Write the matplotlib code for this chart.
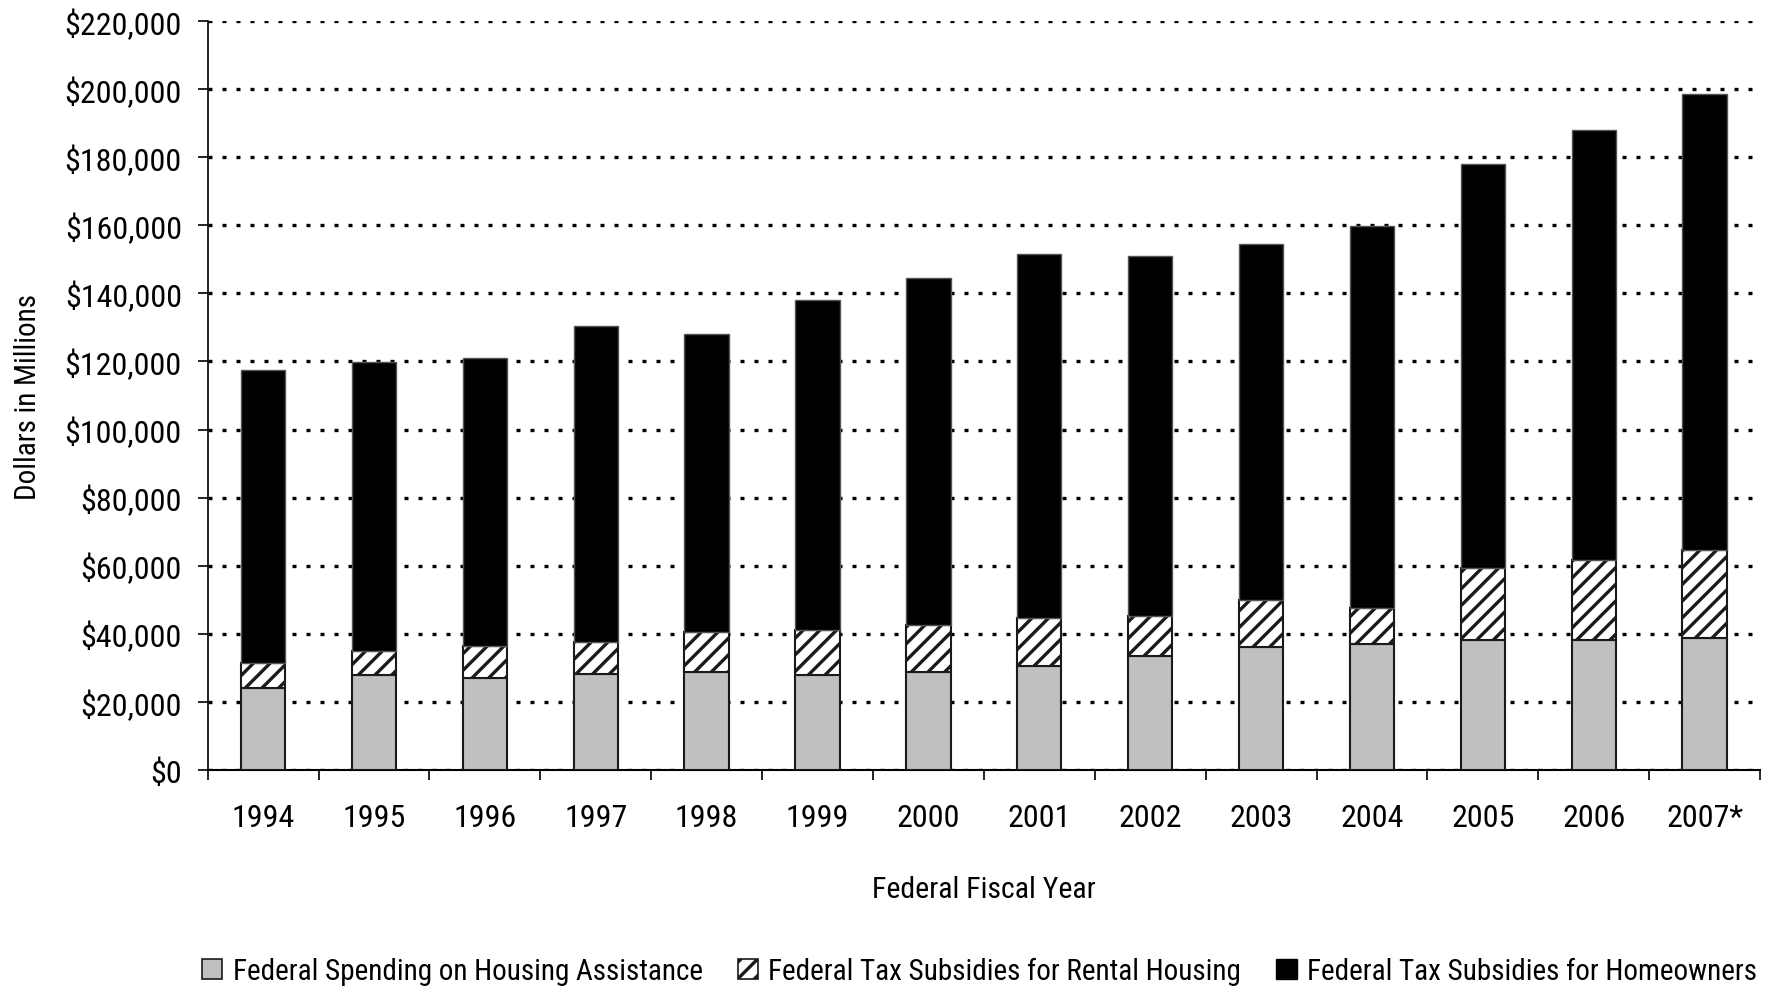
import numpy as np
import matplotlib
matplotlib.use("Agg")
import matplotlib.pyplot as plt
from matplotlib.patches import Patch
from matplotlib import font_manager

years = ['1994', '1995', '1996', '1997', '1998', '1999', '2000',
         '2001', '2002', '2003', '2004', '2005', '2006', '2007*']

# values, millions of dollars (cumulative tops)
spending = [24100, 27800, 27100, 28200, 28800, 27800, 28800,
            30700, 33600, 36000, 37100, 38200, 38300, 38900]
rental_top = [31500, 35100, 36300, 37600, 40400, 41000, 42700,
              44700, 45200, 50000, 47600, 59300, 61700, 64600]
total_top = [117400, 119800, 121100, 130400, 128000, 138000, 144500,
             151600, 151000, 154500, 159800, 178000, 188000, 198600]

rental = np.array(rental_top) - np.array(spending)
owners = np.array(total_top) - np.array(rental_top)

labels = ['Federal Spending on Housing Assistance',
          'Federal Tax Subsidies for Rental Housing',
          'Federal Tax Subsidies for Homeowners']

# look for a condensed sans face, the original uses one
cond = None
for key in ['LiberationSansNarrow-Regular', 'RobotoCondensed-Regular',
            'DejaVuSansCondensed.ttf', 'OpenSans_Condensed-Regular',
            'Roboto_Condensed-Regular']:
    for f in font_manager.fontManager.ttflist:
        if key.lower() in f.fname.lower().replace(' ', ''):
            cond = f
            break
    if cond:
        break

if cond is not None:
    plt.rcParams['font.family'] = cond.name
    plt.rcParams['font.stretch'] = cond.stretch
    fs = 23
else:
    plt.rcParams['font.family'] = 'Liberation Sans'
    fs = 20
plt.rcParams['hatch.linewidth'] = 2.4

fig = plt.figure(figsize=(17.84, 9.87), dpi=100)
ax = fig.add_axes([0.1164, 0.2188, 0.8702, 0.7589])

x = np.arange(len(years))
w = 0.4
ax.bar(x, spending, w, color='#c0c0c0', edgecolor='#1a1a1a', linewidth=1.5, zorder=3)
ax.bar(x, rental, w, bottom=spending, color='white', edgecolor='#1a1a1a',
       hatch='//', linewidth=1.5, zorder=3)
ax.bar(x, owners, w, bottom=rental_top, color='black', edgecolor='#555555',
       linewidth=1.0, zorder=3)

ax.set_xlim(-0.5, len(years) - 0.5)
ax.set_ylim(0, 220000)
ax.set_yticks(np.arange(0, 220001, 20000))
ax.set_yticklabels(['${:,}'.format(v) for v in range(0, 220001, 20000)], fontsize=fs)
ax.yaxis.grid(True, color='black', linestyle=(0, (1.2, 3.0)), linewidth=2.4, zorder=0)

ax.set_xticks(x)
ax.set_xticklabels(years, fontsize=fs)
ax.set_xticks(np.arange(-0.5, len(years)), minor=True)
ax.tick_params(axis='x', which='major', length=0, pad=24)
ax.tick_params(axis='x', which='minor', length=7.5, width=1.2, direction='out')
ax.tick_params(axis='y', length=7.5, width=1.2, direction='out', pad=11)

for s in ['top', 'right']:
    ax.spines[s].set_visible(False)
ax.spines['left'].set_linewidth(1.2)
ax.spines['bottom'].set_linewidth(1.5)

ax.set_xlabel('Federal Fiscal Year', fontsize=fs - 1.5, labelpad=31)
ax.set_ylabel('Dollars in Millions', fontsize=fs - 2)
ax.yaxis.set_label_coords(-0.107, 0.5)

handles = [Patch(facecolor='#c0c0c0', edgecolor='#1a1a1a', linewidth=1.2),
           Patch(facecolor='white', edgecolor='#1a1a1a', hatch='//', linewidth=1.2),
           Patch(facecolor='black', edgecolor='black')]
fig.legend(handles, labels, loc='lower center', bbox_to_anchor=(0.549, -0.026),
           ncol=3, frameon=False, fontsize=fs - 2, handlelength=0.7,
           handleheight=0.7, handletextpad=0.35, columnspacing=1.2)

fig.savefig('out.png', dpi=100)
